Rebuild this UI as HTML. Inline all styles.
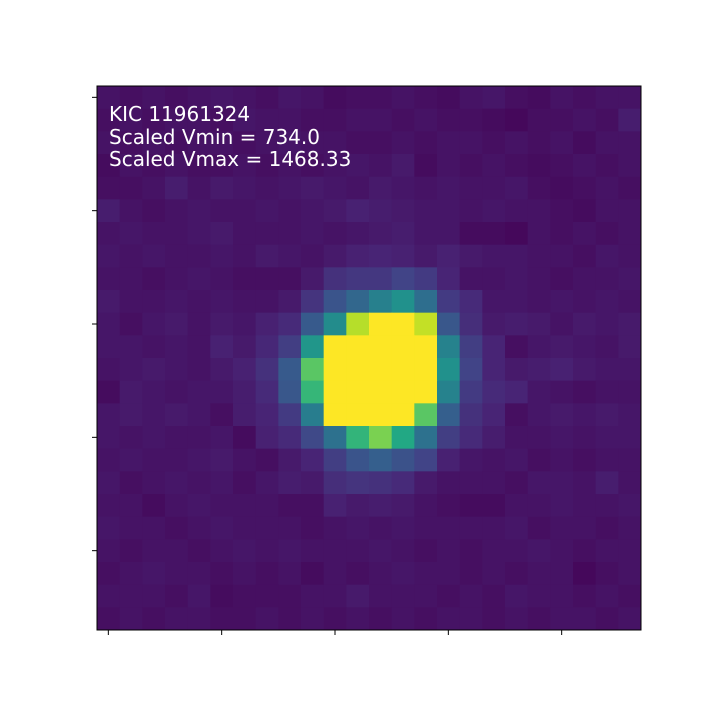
<!DOCTYPE html>
<html><head><meta charset="utf-8"><style>
body{margin:0;background:#fff;width:720px;height:720px;overflow:hidden}
svg{display:block}
</style></head><body>
<svg id="chart" width="720" height="720">
<g id="cells"></g>
<rect x="97" y="86" width="544" height="544" fill="none" stroke="#000" stroke-width="1"/>
<g id="ticks"></g>
<g font-family="DejaVu Sans, Liberation Sans, sans-serif" font-size="20" fill="#fff">
<text x="109" y="121">KIC 11961324</text>
<text x="109" y="144">Scaled Vmin = 734.0</text>
<text x="109" y="166">Scaled Vmax = 1468.33</text>
</g>
</svg>
<script>
const rows = [
[0.05,0.04,0.05,0.04,0.05,0.06,0.05,0.04,0.06,0.05,0.03,0.04,0.04,0.05,0.04,0.03,0.05,0.06,0.04,0.03,0.05,0.04,0.05,0.05],
[0.04,0.05,0.04,0.05,0.05,0.04,0.06,0.05,0.05,0.04,0.04,0.05,0.05,0.04,0.05,0.04,0.04,0.03,0.02,0.04,0.04,0.05,0.04,0.08],
[0.05,0.04,0.05,0.04,0.05,0.05,0.04,0.05,0.06,0.05,0.05,0.04,0.04,0.05,0.04,0.05,0.05,0.04,0.05,0.04,0.05,0.03,0.05,0.05],
[0.03,0.05,0.04,0.05,0.04,0.04,0.05,0.04,0.05,0.04,0.05,0.06,0.05,0.07,0.03,0.05,0.04,0.05,0.04,0.03,0.04,0.05,0.04,0.05],
[0.04,0.04,0.05,0.08,0.05,0.07,0.06,0.05,0.06,0.07,0.06,0.05,0.07,0.06,0.05,0.06,0.05,0.05,0.06,0.04,0.03,0.04,0.05,0.04],
[0.08,0.05,0.04,0.05,0.06,0.05,0.05,0.06,0.05,0.06,0.07,0.09,0.08,0.07,0.06,0.06,0.05,0.06,0.05,0.05,0.04,0.03,0.05,0.05],
[0.05,0.06,0.05,0.05,0.06,0.07,0.05,0.05,0.05,0.06,0.05,0.06,0.07,0.08,0.06,0.06,0.03,0.03,0.02,0.05,0.04,0.05,0.04,0.05],
[0.06,0.05,0.06,0.05,0.05,0.06,0.05,0.07,0.06,0.05,0.07,0.09,0.10,0.09,0.07,0.09,0.07,0.06,0.06,0.05,0.05,0.04,0.06,0.05],
[0.05,0.05,0.04,0.05,0.06,0.05,0.04,0.04,0.04,0.07,0.14,0.16,0.16,0.20,0.17,0.10,0.05,0.05,0.06,0.05,0.04,0.05,0.05,0.06],
[0.07,0.05,0.05,0.06,0.05,0.06,0.05,0.05,0.07,0.15,0.26,0.33,0.43,0.50,0.36,0.17,0.12,0.06,0.06,0.05,0.06,0.05,0.06,0.05],
[0.06,0.04,0.06,0.07,0.05,0.07,0.06,0.09,0.12,0.28,0.48,0.89,1.00,1.00,0.91,0.27,0.13,0.07,0.08,0.07,0.05,0.07,0.06,0.07],
[0.06,0.06,0.05,0.06,0.05,0.09,0.07,0.11,0.18,0.52,1.00,1.00,1.00,1.00,1.00,0.44,0.18,0.10,0.04,0.06,0.07,0.06,0.05,0.07],
[0.05,0.06,0.07,0.06,0.05,0.07,0.09,0.14,0.28,0.74,1.00,1.00,1.00,1.00,1.00,0.50,0.20,0.10,0.07,0.08,0.09,0.07,0.06,0.06],
[0.03,0.07,0.06,0.05,0.06,0.06,0.08,0.12,0.27,0.66,1.00,1.00,1.00,1.00,1.00,0.44,0.17,0.12,0.10,0.06,0.05,0.04,0.05,0.05],
[0.06,0.07,0.06,0.07,0.06,0.04,0.08,0.10,0.17,0.42,1.00,1.00,1.00,1.00,0.74,0.30,0.14,0.10,0.04,0.06,0.07,0.06,0.07,0.06],
[0.06,0.05,0.06,0.05,0.05,0.06,0.03,0.09,0.12,0.22,0.37,0.65,0.80,0.60,0.37,0.18,0.12,0.08,0.05,0.05,0.06,0.05,0.06,0.06],
[0.05,0.06,0.05,0.05,0.06,0.07,0.05,0.04,0.07,0.10,0.18,0.26,0.30,0.25,0.20,0.09,0.06,0.05,0.06,0.04,0.05,0.04,0.05,0.05],
[0.06,0.04,0.05,0.06,0.05,0.06,0.04,0.06,0.08,0.07,0.13,0.15,0.14,0.12,0.07,0.05,0.05,0.05,0.04,0.06,0.06,0.05,0.08,0.05],
[0.05,0.05,0.03,0.05,0.06,0.05,0.05,0.05,0.04,0.04,0.09,0.07,0.08,0.07,0.05,0.04,0.03,0.03,0.05,0.05,0.06,0.05,0.05,0.06],
[0.06,0.05,0.05,0.04,0.05,0.06,0.05,0.05,0.05,0.04,0.05,0.06,0.05,0.06,0.05,0.05,0.05,0.05,0.06,0.04,0.05,0.05,0.04,0.05],
[0.05,0.04,0.05,0.05,0.04,0.05,0.06,0.05,0.06,0.05,0.05,0.05,0.06,0.05,0.04,0.05,0.04,0.05,0.05,0.06,0.05,0.04,0.05,0.05],
[0.04,0.05,0.06,0.05,0.05,0.04,0.05,0.04,0.05,0.03,0.05,0.04,0.05,0.06,0.05,0.05,0.04,0.05,0.04,0.05,0.05,0.02,0.04,0.05],
[0.05,0.05,0.05,0.04,0.06,0.03,0.04,0.04,0.04,0.05,0.05,0.07,0.05,0.05,0.05,0.04,0.05,0.04,0.06,0.05,0.05,0.04,0.05,0.04],
[0.04,0.05,0.04,0.05,0.05,0.04,0.04,0.05,0.04,0.05,0.04,0.05,0.04,0.05,0.04,0.05,0.05,0.04,0.05,0.04,0.05,0.05,0.04,0.05]
];
const xTicks = [0,5,10,15,20];
const yTicks = [0,5,10,15,20];
const N = rows.length;
const X0 = 97, Y0 = 86, SIZE = 544, CELL = SIZE / N;
const xPos = i => X0 + i * CELL;
const yPos = j => Y0 + j * CELL;
const stops = [[0,[68,1,84]],[0.1,[72,36,117]],[0.2,[65,68,135]],[0.3,[53,95,141]],[0.4,[42,120,142]],[0.5,[33,145,140]],[0.6,[34,168,132]],[0.7,[68,191,112]],[0.8,[122,209,81]],[0.9,[189,223,38]],[1,[253,231,37]]];
function viridis(v){
  v = Math.max(0, Math.min(1, v));
  for (let k = 1; k < stops.length; k++) {
    if (v <= stops[k][0]) {
      const [a, ca] = stops[k-1], [b, cb] = stops[k];
      const t = (v - a) / (b - a);
      return 'rgb(' + ca.map((c, i) => Math.round(c + (cb[i] - c) * t)).join(',') + ')';
    }
  }
  return 'rgb(253,231,37)';
}
const NS = 'http://www.w3.org/2000/svg';
const g = document.getElementById('cells');
rows.forEach((row, j) => row.forEach((v, i) => {
  const r = document.createElementNS(NS, 'rect');
  r.setAttribute('x', xPos(i)); r.setAttribute('y', yPos(j));
  r.setAttribute('width', CELL + 0.5); r.setAttribute('height', CELL + 0.5);
  r.setAttribute('fill', viridis(v));
  
  
  g.appendChild(r);
}));
const tg = document.getElementById('ticks');
xTicks.forEach(t => {
  const l = document.createElementNS(NS, 'line');
  const x = xPos(t + 0.5);
  l.setAttribute('x1', x); l.setAttribute('x2', x); l.setAttribute('y1', 630); l.setAttribute('y2', 635);
  l.setAttribute('stroke', '#000');
  
  
  tg.appendChild(l);
});
yTicks.forEach(t => {
  const l = document.createElementNS(NS, 'line');
  const y = yPos(t + 0.5);
  l.setAttribute('y1', y); l.setAttribute('y2', y); l.setAttribute('x1', 92); l.setAttribute('x2', 97);
  l.setAttribute('stroke', '#000');
  
  
  tg.appendChild(l);
});
</script>
</body></html>
